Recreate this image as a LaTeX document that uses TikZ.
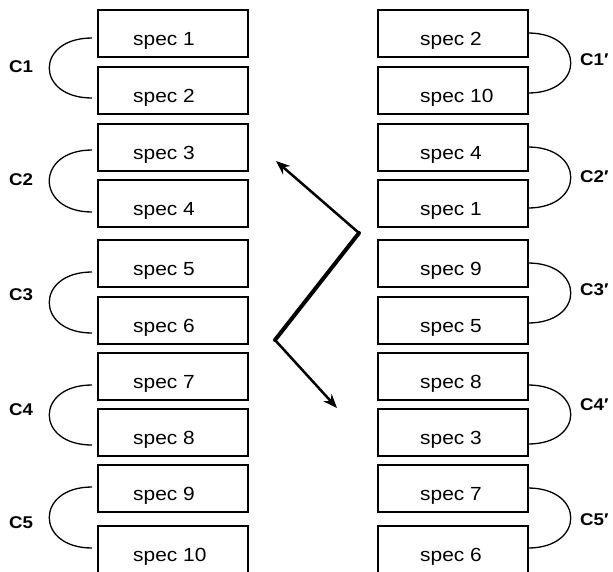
\documentclass[tikz,border=0pt]{standalone}
\usepackage{fontspec}
\setmainfont{Liberation Sans}
\usetikzlibrary{arrows.meta}
\begin{document}
\begin{tikzpicture}[x=1pt,y=-1pt,
  specbox/.style={draw, line width=1.5pt, minimum width=150pt, minimum height=47pt, inner sep=0pt, anchor=north west},
  spectext/.style={anchor=base west, inner sep=0pt, font=\fontsize{19}{21}\selectfont},
  clabel/.style={font=\fontsize{17}{19}\selectfont\bfseries, inner sep=0pt},
  arcline/.style={line width=1.3pt},
  zig/.style={line width=2.5pt, line cap=round, -{Stealth[length=14pt,width=11pt]}}
]
\useasboundingbox (0,0) rectangle (613,571);
\clip (0,0) rectangle (613,571);
% left column
\foreach \i/\t in {1/9,2/66,3/123,4/179,5/239,6/296,7/352,8/408,9/464,10/525} {
  \node[specbox] (L\i) at (97,\t) {};
  \node[spectext] (LT\i) at ([xshift=36pt,yshift=-36pt]L\i.north west) {\scalebox{1.1}[1]{spec \i}};
}
% right column
\foreach \i/\t/\s in {1/9/2,2/66/10,3/123/4,4/179/1,5/239/9,6/296/5,7/352/8,8/408/3,9/464/7,10/525/6} {
  \node[specbox] (R\i) at (377,\t) {};
  \node[spectext] (RT\i) at ([xshift=43pt,yshift=-36pt]R\i.north west) {\scalebox{1.1}[1]{spec \s}};
}
% left arcs
\foreach \k/\a/\b/\c in {1/38/98/67,2/150/212/180,3/272/333/295,4/385/445/410,5/487/548/523} {
  \coordinate (la\k) at (92,\a);
  \coordinate (lb\k) at (92,\b);
  \draw[arcline] (la\k) .. controls +(-57,0) and +(-57,0) .. (lb\k);
  \node[clabel] (lc\k) at (21,\c) {\scalebox{1.1}[1]{C\k}};
}
% right arcs
\foreach \k/\a/\b/\c in {1/33/93/60,2/147/208/177,3/263/323/290,4/385/444/405,5/488/548/520} {
  \coordinate (ra\k) at (528,\a);
  \coordinate (rb\k) at (528,\b);
  \draw[arcline] (ra\k) .. controls +(57,0) and +(57,0) .. (rb\k);
  \node[clabel, anchor=west] (rc\k) at (580,\c) {\scalebox{1.1}[1]{C\k′}};
}
% zigzag arrows
\coordinate (tipA) at (276,161);
\coordinate (vA) at (359,233);
\coordinate (vB) at (275,340);
\coordinate (tipB) at (337,408);
\draw[zig] (vA) -- (tipA);
\draw[zig] (vB) -- (tipB);
\draw[line width=4pt, line cap=round] (vA) -- (vB);
\end{tikzpicture}
\end{document}
